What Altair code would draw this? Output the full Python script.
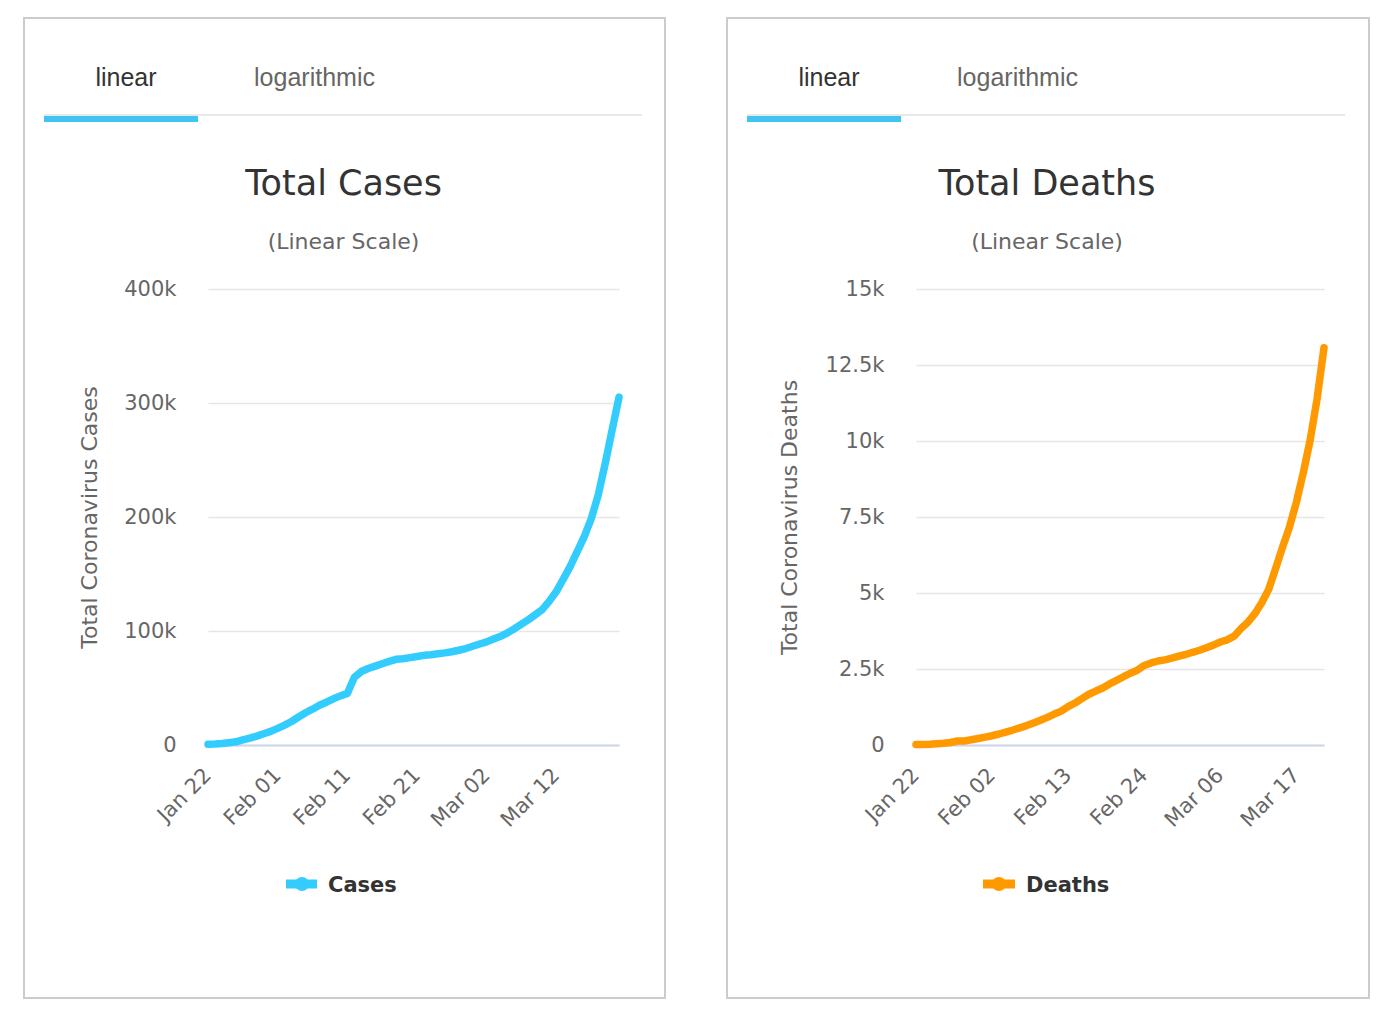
import altair as alt
import pandas as pd

# ---------------- data ----------------
dates = list(pd.date_range("2020-01-22", "2020-03-21", freq="D"))

total_cases = [
    580, 845, 1317, 2015, 2800, 4581, 6058, 7813, 9823, 11950,
    14553, 17391, 20630, 24545, 28266, 31439, 34876, 37552, 40553, 43099,
    45134, 59287, 64438, 67100, 69197, 71329, 73332, 75184, 75700, 76677,
    77673, 78651, 79205, 80087, 80828, 81820, 83112, 84615, 86604, 88585,
    90443, 93016, 95314, 98425, 102050, 106099, 109991, 114381, 118948, 126214,
    134576, 145483, 156653, 169593, 182490, 198238, 218822, 246335, 275944, 305036,
]

total_deaths = [
    17, 18, 26, 42, 56, 82, 131, 133, 171, 213,
    259, 304, 362, 426, 492, 565, 638, 724, 813, 910,
    1018, 1115, 1261, 1383, 1526, 1669, 1775, 1873, 2009, 2126,
    2247, 2360, 2460, 2618, 2699, 2763, 2800, 2858, 2923, 2977,
    3050, 3117, 3202, 3285, 3387, 3460, 3580, 3830, 4040, 4320,
    4680, 5120, 5800, 6500, 7162, 7979, 8951, 10029, 11386, 13069,
]

cases_tick_dates = ["2020-01-22", "2020-02-01", "2020-02-11", "2020-02-21", "2020-03-02", "2020-03-12"]
deaths_tick_dates = ["2020-01-22", "2020-02-02", "2020-02-13", "2020-02-24", "2020-03-06", "2020-03-17"]
cases_y_ticks = [0, 100000, 200000, 300000, 400000]
deaths_y_ticks = [0, 2500, 5000, 7500, 10000, 12500, 15000]
cases_y_max = 400000
deaths_y_max = 15000

tab_labels = ["linear", "logarithmic"]
chart_titles = ["Total Cases", "Total Deaths"]
subtitle_text = "(Linear Scale)"
y_titles = ["Total Coronavirus Cases", "Total Coronavirus Deaths"]
series_names = ["Cases", "Deaths"]
series_colors = ["#33ccff", "#ff9900"]

# ---------------- styling ----------------
AXIS_FONT = "DejaVu Sans"
TAB_FONT = "Liberation Sans"
PLOT_TOP = 290  # screen y of plot top
H = 456


def dt(s):
    y, m, d = (int(v) for v in s.split("-"))
    return alt.DateTime(year=y, month=m, date=d)


def one(**kw):
    return pd.DataFrame({k: [v] for k, v in kw.items()})


def panel(values, name, color, ticks, yticks, ymax, ytitle, title,
          ox, width, box_left, box_right, ytitle_x, leg_bar, leg_circle, leg_text):
    df = pd.DataFrame({"date": dates, "value": values, "series": name})

    def rx(sx):  # screen x -> plot-relative x
        return sx - ox

    def ry(sy):
        return sy - PLOT_TOP

    line = alt.Chart(df).mark_line(
        color=color, strokeWidth=7.5, strokeCap="round", strokeJoin="round"
    ).encode(
        x=alt.X(
            "date:T",
            scale=alt.Scale(domain=[dt("2020-01-22"), dt("2020-03-21")], nice=False),
            axis=alt.Axis(
                values=[dt(t) for t in ticks], format="%b %d", labelAngle=-45,
                labelAlign="right", labelBaseline="alphabetic", labelPadding=31,
                labelOffset=4,
                labelFont=AXIS_FONT, labelFontSize=21, labelColor="#666666",
                labelOverlap=False, labelFlush=False,
                ticks=False, grid=False, domainColor="#ccd6eb", domainWidth=2, title=None,
            ),
        ),
        y=alt.Y(
            "value:Q",
            scale=alt.Scale(domain=[0, ymax], nice=False),
            axis=alt.Axis(
                values=yticks,
                labelExpr="datum.value == 0 ? '0' : (datum.value / 1000) + 'k'",
                labelFont=AXIS_FONT, labelFontSize=21, labelColor="#666666", labelPadding=32,
                ticks=False, domain=False, gridColor="#e6e6e6", gridWidth=1.5,
                title=ytitle, titleX=rx(ytitle_x), titleY=H / 2, titleAngle=-90,
                titleAlign="center", titleBaseline="middle", titleFont=AXIS_FONT,
                titleFontSize=22, titleFontWeight="normal", titleColor="#666666",
            ),
        ),
    )

    box = alt.Chart(one(a=0)).mark_rect(
        fillOpacity=0, stroke="#cccccc", strokeWidth=2
    ).encode(
        x=alt.value(rx(box_left + 1)), x2=alt.value(rx(box_right + 1)),
        y=alt.value(ry(19)), y2=alt.value(ry(999)),
    )

    sep = alt.Chart(one(a=0)).mark_rule(color="#e9e9e9", strokeWidth=2).encode(
        x=alt.value(rx(box_left + 21)), x2=alt.value(rx(box_left + 619)), y=alt.value(ry(116))
    )
    bar = alt.Chart(one(a=0)).mark_rule(color="#3fc5ef", strokeWidth=6).encode(
        x=alt.value(rx(box_left + 21)), x2=alt.value(rx(box_left + 175)), y=alt.value(ry(120))
    )
    tab1 = alt.Chart(one(t=tab_labels[0])).mark_text(
        font=TAB_FONT, fontSize=25, color="#333333", align="center", baseline="alphabetic"
    ).encode(text="t:N", x=alt.value(rx(box_left + 103)), y=alt.value(ry(87)))
    tab2 = alt.Chart(one(t=tab_labels[1])).mark_text(
        font=TAB_FONT, fontSize=25, color="#666666", align="center", baseline="alphabetic"
    ).encode(text="t:N", x=alt.value(rx(box_left + 291.5)), y=alt.value(ry(87)))

    center = (box_left + box_right) / 2
    ttl = alt.Chart(one(t=title)).mark_text(
        font=AXIS_FONT, fontSize=35, color="#333333", align="center", baseline="alphabetic"
    ).encode(text="t:N", x=alt.value(rx(center)), y=alt.value(ry(196)))
    sub = alt.Chart(one(t=subtitle_text)).mark_text(
        font=AXIS_FONT, fontSize=22, color="#666666", align="center", baseline="alphabetic"
    ).encode(text="t:N", x=alt.value(rx(center)), y=alt.value(ry(250)))

    leg_line = alt.Chart(one(a=0)).mark_rule(color=color, strokeWidth=9).encode(
        x=alt.value(rx(leg_bar[0])), x2=alt.value(rx(leg_bar[1])), y=alt.value(ry(885))
    )
    leg_dot = alt.Chart(one(a=0)).mark_point(
        filled=True, color=color, size=200, opacity=1, shape="circle"
    ).encode(x=alt.value(rx(leg_circle)), y=alt.value(ry(885)))
    leg_txt = alt.Chart(one(t=name)).mark_text(
        font=AXIS_FONT, fontSize=21, fontWeight="bold", color="#333333",
        align="left", baseline="alphabetic"
    ).encode(text="t:N", x=alt.value(rx(leg_text)), y=alt.value(ry(893)))

    return alt.layer(
        box, sep, bar, tab1, tab2, ttl, sub, line, leg_line, leg_dot, leg_txt
    ).properties(width=width, height=H)


left = panel(total_cases, series_names[0], series_colors[0], cases_tick_dates, cases_y_ticks,
             cases_y_max, y_titles[0], chart_titles[0],
             ox=209, width=411, box_left=24, box_right=665, ytitle_x=90,
             leg_bar=(287, 318), leg_circle=303, leg_text=329)

right = panel(total_deaths, series_names[1], series_colors[1], deaths_tick_dates, deaths_y_ticks,
              deaths_y_max, y_titles[1], chart_titles[1],
              ox=917, width=408, box_left=727, box_right=1369, ytitle_x=790,
              leg_bar=(984, 1016), leg_circle=1000, leg_text=1027)

chart = alt.hconcat(left, right, spacing=60).properties(
    padding={"left": 15, "top": 9, "right": 5, "bottom": 5},
    background="white",
).configure_view(stroke=None)

chart.save("out.html", embed_options={"renderer": "svg", "actions": False})
